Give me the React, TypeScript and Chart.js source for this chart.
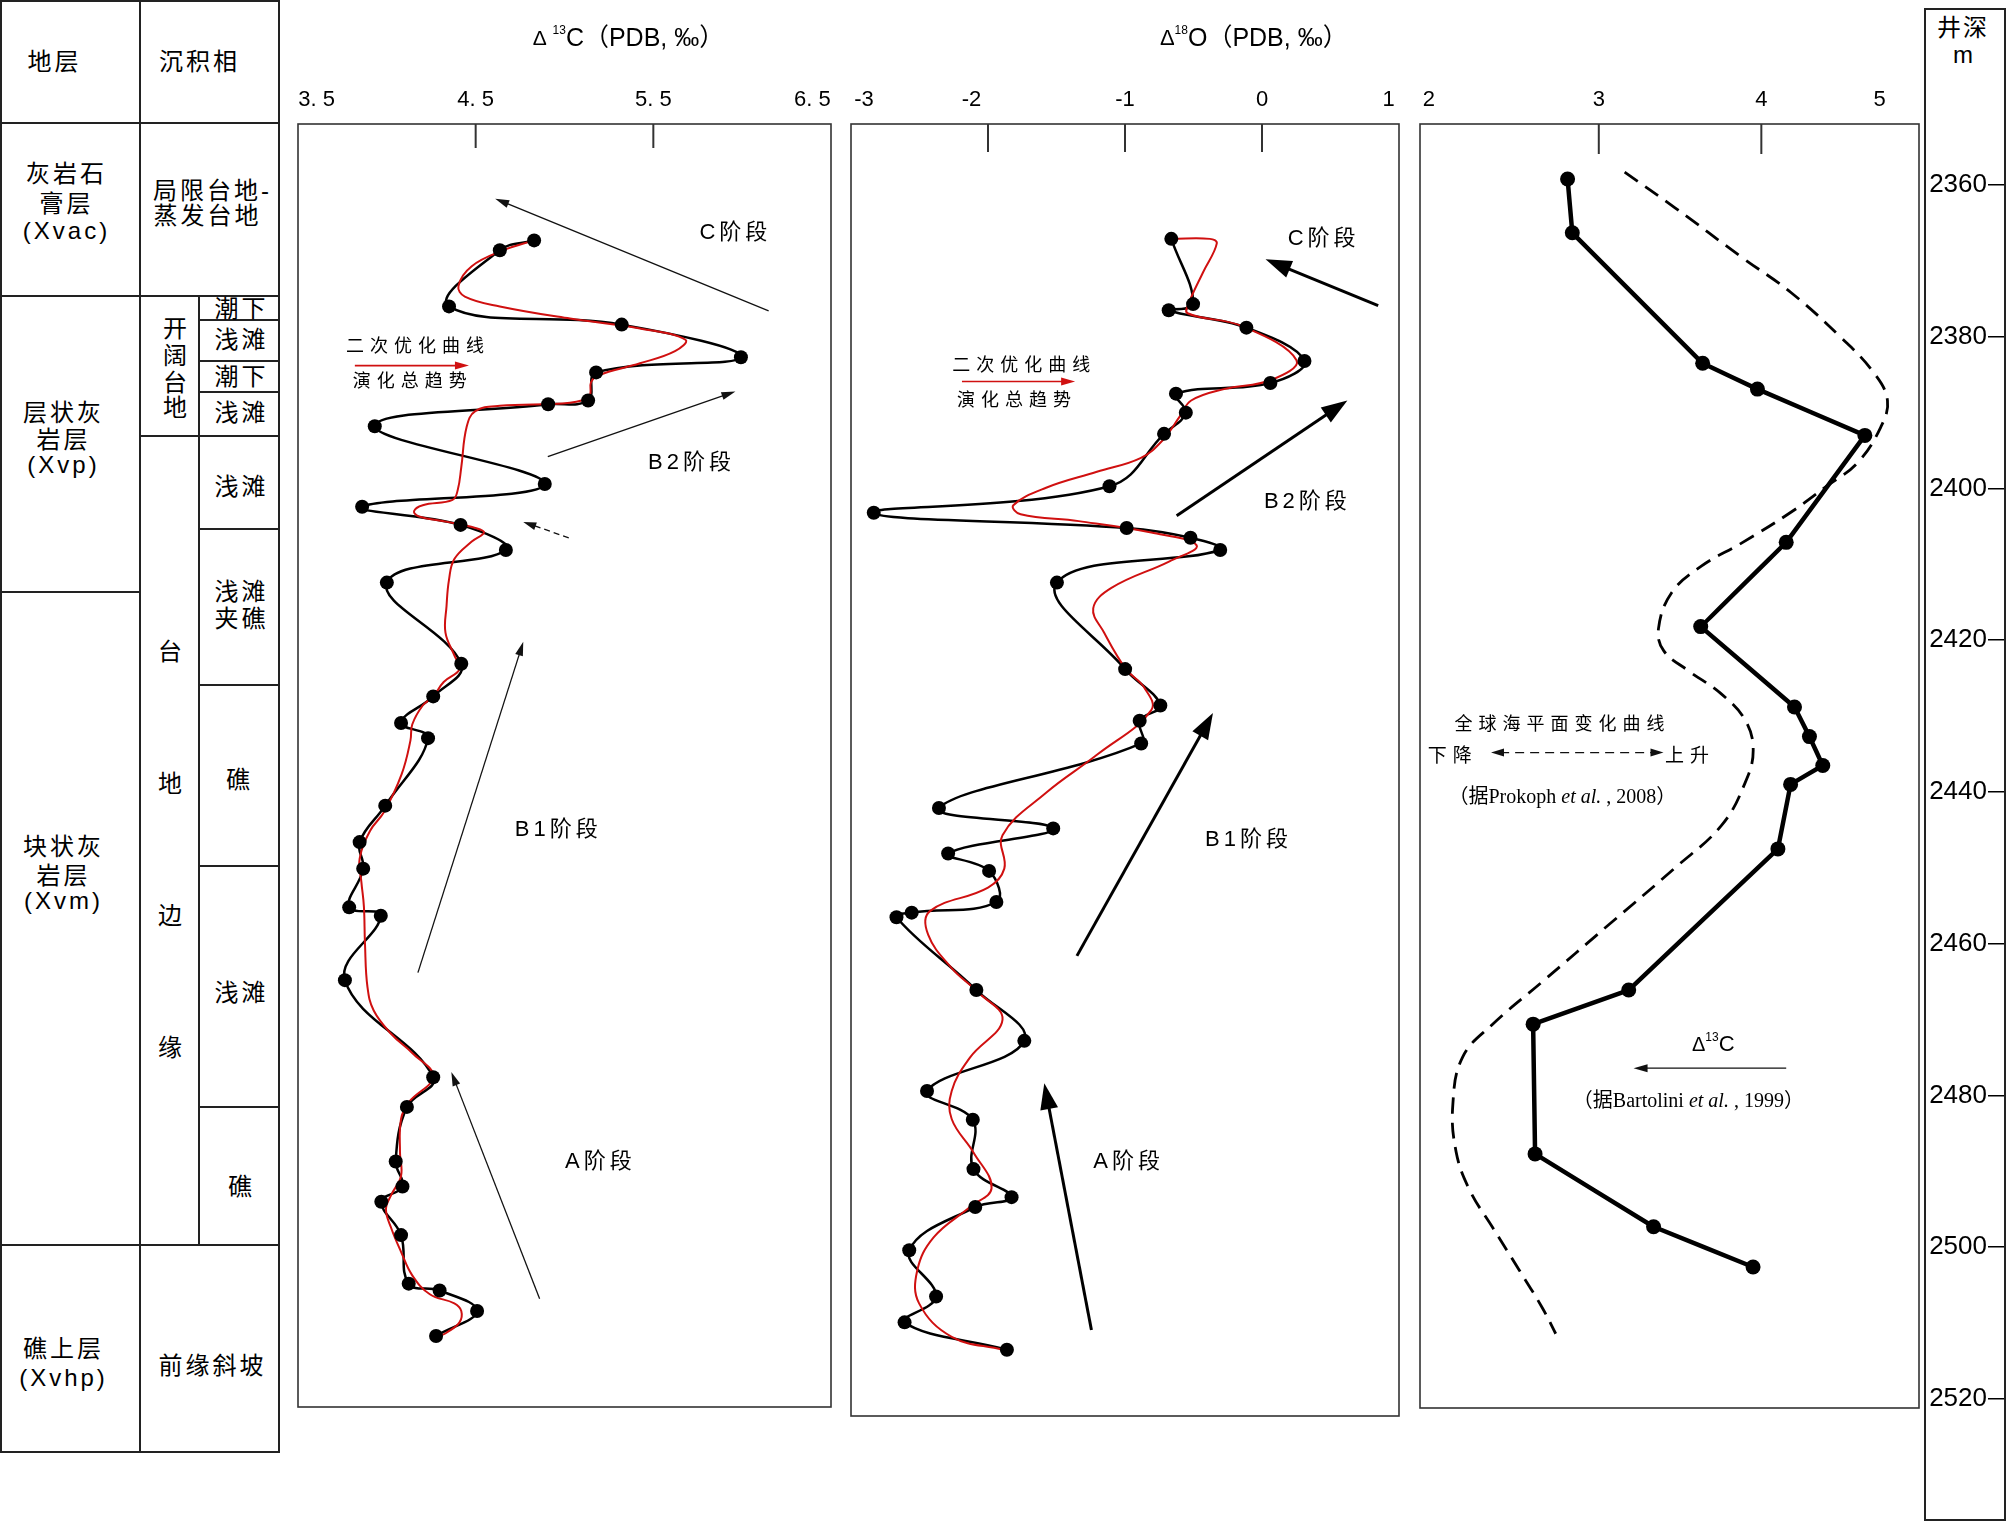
import React, { useEffect, useRef } from 'react';
import { Chart, registerables } from 'chart.js';

Chart.register(...registerables);

type Pt = [number, number];

// ======================= DATA =======================
const DEPTH_TICKS = [2360, 2380, 2400, 2420, 2440, 2460, 2480, 2500, 2520];

// ---- δ13C panel ----
const C13_RANGE: Pt = [3.5, 6.5];
const C13_TICKS = [4.5, 5.5];
const C13_LABELS = ['3. 5', '4. 5', '5. 5', '6. 5'];
const C13_LABEL_AT = [3.605, 4.5, 5.5, 6.395];
const C13_SAMPLES: Pt[] = [
  [4.829, 2367.3], [4.636, 2368.6], [4.35, 2376.0], [5.322, 2378.4], [5.993, 2382.7], [5.178, 2384.7],
  [5.133, 2388.4], [4.908, 2388.9], [3.932, 2391.8], [4.889, 2399.4], [3.861, 2402.4], [4.415, 2404.8],
  [4.67, 2408.1], [4.0, 2412.4], [4.419, 2423.1], [4.261, 2427.4], [4.08, 2430.9], [4.232, 2432.9],
  [3.991, 2441.8], [3.847, 2446.6], [3.867, 2450.1], [3.788, 2455.2], [3.966, 2456.3], [3.764, 2464.8],
  [4.261, 2477.6], [4.113, 2481.5], [4.05, 2488.7], [4.088, 2492.0], [3.969, 2494.0], [4.08, 2498.4],
  [4.123, 2504.8], [4.297, 2505.7], [4.508, 2508.4], [4.277, 2511.7],
];
const C13_TREND: Pt[] = [
  [4.829, 2367.3], [4.656, 2368.6], [4.478, 2370.7], [4.403, 2373.3], [4.439, 2374.7], [4.636, 2376.0],
  [5.031, 2377.6], [5.425, 2378.9], [5.681, 2380.4], [5.622, 2381.9], [5.425, 2383.5], [5.188, 2385.1],
  [5.149, 2386.0], [5.139, 2387.8], [5.031, 2388.7], [4.636, 2389.1], [4.498, 2389.8], [4.449, 2391.9],
  [4.419, 2397.2], [4.399, 2400.2], [4.37, 2401.5], [4.202, 2402.2], [4.153, 2403.0], [4.182, 2403.7],
  [4.34, 2404.4], [4.498, 2405.2], [4.547, 2405.8], [4.478, 2407.0], [4.38, 2409.3], [4.35, 2412.0],
  [4.336, 2415.5], [4.33, 2419.0], [4.38, 2422.0], [4.409, 2423.8], [4.32, 2425.5], [4.261, 2427.4],
  [4.202, 2428.6], [4.143, 2431.1], [4.133, 2433.2], [4.084, 2437.6], [3.985, 2442.6], [3.906, 2445.1],
  [3.847, 2448.8], [3.857, 2451.9], [3.871, 2455.1], [3.877, 2460.0], [3.891, 2465.7], [3.926, 2468.8],
  [4.025, 2471.9], [4.143, 2474.4], [4.261, 2477.5], [4.123, 2480.9], [4.08, 2483.1], [4.074, 2487.5],
  [4.08, 2490.6], [4.025, 2493.1], [3.995, 2495.0], [4.025, 2497.5], [4.08, 2500.6], [4.143, 2503.7],
  [4.242, 2506.2], [4.38, 2507.4], [4.419, 2508.4], [4.409, 2509.9], [4.34, 2511.2], [4.291, 2511.8],
];
const C13_TITLE_AT = 5.36;
const C13_ARROWS: [Pt, Pt][] = [
  [[6.149, 2376.6], [4.61, 2361.8]],
  [[4.906, 2395.8], [5.962, 2387.2]],
  [[4.175, 2463.8], [4.768, 2420.2]],
  [[4.86, 2506.8], [4.363, 2476.9]],
];
const C13_DASH_ARROW: [Pt, Pt] = [[5.024, 2406.5], [4.768, 2404.4]];
const C13_STAGES: [string, number, number][] = [
  ['C阶段', 5.962, 2366.3], ['B2阶段', 5.715, 2396.6], ['B1阶段', 4.965, 2445.0], ['A阶段', 5.202, 2488.7],
];
const C13_LEGEND_TEXT: [string, number, number][] = [['二次优化曲线', 4.175, 2381.3], ['演化总趋势', 4.146, 2386.0]];
const C13_LEGEND_ARROW: [Pt, Pt] = [[3.82, 2383.8], [4.462, 2383.8]];

// ---- δ18O panel ----
const O18_RANGE: Pt = [-3, 1];
const O18_TICKS = [-2, -1, 0];
const O18_LABELS = ['-3', '-2', '-1', '0', '1'];
const O18_LABEL_AT = [-2.905, -2.12, -1, 0, 0.925];
const O18_SAMPLES: Pt[] = [
  [-0.662, 2367.1], [-0.503, 2375.7], [-0.681, 2376.5], [-0.114, 2378.8], [0.31, 2383.2], [0.061, 2386.1],
  [-0.628, 2387.5], [-0.556, 2390.0], [-0.715, 2392.8], [-1.113, 2399.7], [-2.834, 2403.2], [-0.988, 2405.2],
  [-0.522, 2406.5], [-0.305, 2408.1], [-1.497, 2412.4], [-0.999, 2423.8], [-0.742, 2428.6], [-0.893, 2430.6],
  [-0.882, 2433.6], [-2.358, 2442.1], [-1.524, 2444.8], [-2.291, 2448.1], [-1.992, 2450.4], [-1.939, 2454.5],
  [-2.557, 2455.9], [-2.668, 2456.5], [-2.085, 2466.1], [-1.735, 2472.8], [-2.445, 2479.4], [-2.111, 2483.2],
  [-2.106, 2489.7], [-1.828, 2493.4], [-2.093, 2494.7], [-2.575, 2500.4], [-2.379, 2506.5], [-2.609, 2509.9],
  [-1.862, 2513.5],
];
const O18_TREND: Pt[] = [
  [-0.662, 2367.1], [-0.38, 2367.1], [-0.33, 2367.7], [-0.43, 2371.5], [-0.53, 2375.4], [-0.543, 2376.9],
  [-0.146, 2378.6], [0.252, 2383.1],
  [0.066, 2385.7], [-0.278, 2386.9], [-0.517, 2388.4], [-0.596, 2390.4], [-0.728, 2393.7], [-0.887, 2396.0],
  [-1.205, 2397.8], [-1.576, 2399.9], [-1.815, 2402.2], [-1.762, 2403.4], [-1.338, 2404.3], [-0.808, 2405.8],
  [-0.477, 2407.5], [-0.675, 2409.6], [-1.099, 2413.1], [-1.232, 2415.8], [-1.152, 2419.0], [-0.993, 2423.8],
  [-0.861, 2426.2], [-0.808, 2429.2], [-1.205, 2435.1], [-1.576, 2440.1], [-1.894, 2445.7], [-1.881, 2450.1],
  [-2.0, 2452.6], [-2.424, 2455.7], [-2.437, 2458.8], [-2.265, 2463.2], [-2.079, 2466.3], [-1.894, 2470.0],
  [-2.132, 2475.0], [-2.265, 2479.4], [-2.265, 2483.1], [-2.106, 2487.5], [-1.974, 2492.2], [-2.132, 2494.7],
  [-2.397, 2498.7], [-2.517, 2503.1], [-2.503, 2507.4], [-2.265, 2511.8], [-1.894, 2513.5],
];
const O18_TITLE_AT = -0.06;
const O18_ARROWS: [Pt, Pt][] = [
  [[0.848, 2375.9], [0.026, 2369.8]],
  [[-0.623, 2403.6], [0.623, 2388.4]],
  [[-1.351, 2461.6], [-0.358, 2429.6]],
  [[-1.245, 2510.9], [-1.589, 2478.4]],
];
const O18_STAGES: [string, number, number][] = [
  ['C阶段', 0.45, 2367.1], ['B2阶段', 0.331, 2401.8], ['B1阶段', -0.098, 2446.3], ['A阶段', -0.973, 2488.7],
];
const O18_LEGEND_TEXT: [string, number, number][] = [['二次优化曲线', -1.735, 2383.8], ['演化总趋势', -1.788, 2388.5]];
const O18_LEGEND_ARROW: [Pt, Pt] = [[-2.19, 2385.9], [-1.364, 2385.9]];

// ---- global reference panel ----
const REF_RANGE: Pt = [1.9, 4.97];
const REF_TICKS = [3, 4];
const REF_LABELS = ['2', '3', '4', '5'];
const REF_LABEL_AT = [1.955, 3, 4, 4.728];
const BARTOLINI_C13: Pt[] = [
  [2.808, 2359.2], [2.837, 2366.3], [3.639, 2383.5], [3.976, 2386.9], [4.637, 2393.0], [4.153, 2407.1],
  [3.627, 2418.2], [4.204, 2428.8], [4.296, 2432.7], [4.378, 2436.5], [4.18, 2439.0], [4.102, 2447.5],
  [3.184, 2466.1], [2.596, 2470.6], [2.608, 2487.7], [3.337, 2497.3], [3.949, 2502.6],
];
const SEA_LEVEL: Pt[] = [
  [3.159, 2358.3], [3.469, 2363.0], [3.878, 2369.5], [4.184, 2374.2], [4.49, 2380.1], [4.694, 2384.8],
  [4.776, 2388.4], [4.735, 2391.9], [4.592, 2396.6], [4.408, 2399.6], [4.184, 2403.1], [3.878, 2407.2],
  [3.633, 2410.2], [3.449, 2413.7], [3.367, 2418.5], [3.4, 2421.4], [3.55, 2424.0], [3.75, 2427.0],
  [3.9, 2430.5], [3.95, 2434.5], [3.9, 2438.8], [3.755, 2444.4], [3.469, 2450.0], [3.061, 2457.5],
  [2.653, 2465.0], [2.347, 2470.6], [2.163, 2474.9], [2.102, 2481.2], [2.122, 2487.4], [2.204, 2492.4],
  [2.347, 2497.4], [2.51, 2503.0], [2.653, 2508.0], [2.735, 2511.4],
];
const SEA_TITLE: [string, number, number] = ['全球海平面变化曲线', 2.776, 2431.2];
const SEA_FALL: [string, number, number] = ['下降', 2.102, 2435.4];
const SEA_RISE: [string, number, number] = ['上升', 3.561, 2435.4];
const SEA_ARROW: [Pt, Pt] = [[2.337, 2434.8], [3.398, 2434.8]];
const SEA_SOURCE: [string, string, string, number, number] = ['（据Prokoph ', 'et al.', ' , 2008）', 2.776, 2440.7];
const C13_REF_LABEL: Pt = [3.704, 2473.4];
const C13_REF_ARROW: [Pt, Pt] = [[4.153, 2476.4], [3.214, 2476.4]];
const C13_REF_SOURCE: [string, string, string, number, number] = ['（据Bartolini ', 'et al.', ' , 1999）', 3.551, 2480.8];

// ---- stratigraphy table ----
const TABLE_TEXT: [string, number, number][] = [
  ['地层', 53, 62], ['沉积相', 198, 62],
  ['灰岩石', 65, 174], ['膏层', 65, 204], ['(Xvac)', 65, 231],
  ['局限台地-', 211, 191], ['蒸发台地', 206, 216],
  ['层状灰', 62, 413], ['岩层', 62, 440], ['(Xvp)', 62, 465],
  ['开', 175, 329], ['阔', 175, 356], ['台', 175, 383], ['地', 175, 408],
  ['潮下', 240, 309], ['浅滩', 240, 340], ['潮下', 240, 377], ['浅滩', 240, 413],
  ['浅滩', 240, 487], ['浅滩', 240, 592], ['夹礁', 240, 619], ['礁', 238, 780],
  ['浅滩', 240, 993], ['礁', 240, 1187],
  ['台', 170, 652], ['地', 170, 784], ['边', 170, 916], ['缘', 170, 1048],
  ['块状灰', 62, 847], ['岩层', 62, 876], ['(Xvm)', 62, 901],
  ['礁上层', 62, 1349], ['(Xvhp)', 62, 1378],
  ['前缘斜坡', 211, 1366],
];
// horizontal rules [y, x1, x2] and vertical rules [x, y1, y2]
const TABLE_H: [number, number, number][] = [
  [1, 0, 280], [123, 0, 280], [296, 0, 280], [592, 0, 140], [1245, 0, 280], [1452, 0, 280],
  [320, 199, 280], [361, 199, 280], [391.5, 199, 280], [435.5, 140, 280], [529, 199, 280],
  [685, 199, 280], [866, 199, 280], [1107, 199, 280],
];
const TABLE_V: [number, number, number][] = [[1, 0, 1453], [140, 0, 1453], [199, 296, 1245], [279, 0, 1453]];

// ======================= STYLE / LAYOUT =======================
const SANS = '"Liberation Sans", "Noto Sans CJK SC", sans-serif';
const SERIF = '"Liberation Serif", "Noto Sans CJK SC", serif';
const RED = '#d01010';
const BOX_TOP = 124;
const Y2360 = 185;
const PX_PER_M = 7.5875;
const depthAt = (y: number) => 2360 + (y - Y2360) / PX_PER_M;

const PANELS = {
  c13: { left: 298, right: 831, bottom: 1407 },
  o18: { left: 851, right: 1399, bottom: 1416 },
  ref: { left: 1420, right: 1919, bottom: 1408 },
};

type Seg = { t: string; size: number; family?: string; italic?: boolean; dy?: number; ls?: number };
type ArrowStyle = { w: number; color: string; head: number; hw: number; dash?: number[]; both?: boolean };

const THIN: ArrowStyle = { w: 1.3, color: '#111', head: 14, hw: 8 };
const THIN_DASH: ArrowStyle = { w: 1.3, color: '#111', head: 13, hw: 8, dash: [6, 4] };
const THICK: ArrowStyle = { w: 3, color: '#000', head: 26, hw: 18 };
const RED_ARROW: ArrowStyle = { w: 1.6, color: RED, head: 14, hw: 8 };
const DOUBLE_DASH: ArrowStyle = { w: 1.3, color: '#111', head: 13, hw: 8, dash: [9, 6], both: true };

function richText(ctx: any, segs: Seg[], cx: number, cy: number) {
  ctx.save();
  ctx.textAlign = 'left';
  ctx.textBaseline = 'middle';
  ctx.fillStyle = '#000';
  const apply = (s: Seg) => {
    ctx.font = `${s.italic ? 'italic ' : ''}${s.size}px ${s.family || SANS}`;
    ctx.letterSpacing = `${s.ls || 0}px`;
  };
  const widths = segs.map((s) => {
    apply(s);
    return ctx.measureText(s.t).width;
  });
  const total = widths.reduce((a, b) => a + b, 0);
  let x = cx - total / 2;
  segs.forEach((s, i) => {
    apply(s);
    ctx.fillText(s.t, x, cy + (s.dy || 0));
    x += widths[i];
  });
  ctx.restore();
}

function head(ctx: any, x: number, y: number, ang: number, len: number, w: number) {
  const c = Math.cos(ang);
  const s = Math.sin(ang);
  const bx = x - len * c;
  const by = y - len * s;
  ctx.beginPath();
  ctx.moveTo(x, y);
  ctx.lineTo(bx + (w / 2) * s, by - (w / 2) * c);
  ctx.lineTo(bx - (w / 2) * s, by + (w / 2) * c);
  ctx.closePath();
  ctx.fill();
}

function arrow(ctx: any, a: Pt, b: Pt, o: ArrowStyle) {
  const [x1, y1] = a;
  const [x2, y2] = b;
  const ang = Math.atan2(y2 - y1, x2 - x1);
  const c = Math.cos(ang);
  const s = Math.sin(ang);
  ctx.save();
  ctx.strokeStyle = o.color;
  ctx.fillStyle = o.color;
  ctx.lineWidth = o.w;
  ctx.setLineDash(o.dash || []);
  ctx.beginPath();
  const k = o.head * 0.7;
  ctx.moveTo(o.both ? x1 + k * c : x1, o.both ? y1 + k * s : y1);
  ctx.lineTo(x2 - k * c, y2 - k * s);
  ctx.stroke();
  ctx.setLineDash([]);
  head(ctx, x2, y2, ang, o.head, o.hw);
  if (o.both) head(ctx, x1, y1, ang + Math.PI, o.head, o.hw);
  ctx.restore();
}

const toXY = (arr: Pt[]) => arr.map(([x, y]) => ({ x, y }));

function makePanel(
  canvas: HTMLCanvasElement,
  box: { left: number; right: number; bottom: number },
  range: Pt,
  labelAt: number[],
  labels: string[],
  innerTicks: number[],
  innerTickLen: number,
  datasets: any[],
  draw: (ctx: any, P: (v: number, d: number) => Pt, chart: any) => void,
) {
  return new Chart(canvas, {
    type: 'line',
    data: { datasets },
    options: {
      animation: false,
      responsive: false,
      devicePixelRatio: 1,
      events: [],
      layout: { autoPadding: false, padding: { left: 2, right: 2, top: 0, bottom: 2 } },
      plugins: { legend: { display: false }, tooltip: { enabled: false }, title: { display: false } },
      scales: {
        x: {
          type: 'linear',
          position: 'top',
          min: range[0],
          max: range[1],
          afterBuildTicks: (s: any) => {
            s.ticks = labelAt.map((v) => ({ value: v }));
          },
          afterFit: (s: any) => {
            s.height = BOX_TOP;
          },
          grid: { display: false, drawTicks: true, tickLength: 11 },
          border: { display: false },
          ticks: {
            autoSkip: false,
            maxRotation: 0,
            minRotation: 0,
            padding: 0,
            color: '#000',
            font: { family: SANS, size: 22 },
            callback: (_v: any, i: number) => labels[i],
          },
        },
        y: {
          type: 'linear',
          display: false,
          reverse: true,
          min: depthAt(BOX_TOP),
          max: depthAt(box.bottom),
        },
      },
    } as any,
    plugins: [
      {
        id: 'overlay',
        afterDatasetsDraw(chart: any) {
          const ctx = chart.ctx;
          const a = chart.chartArea;
          const P = (v: number, d: number): Pt => [chart.scales.x.getPixelForValue(v), chart.scales.y.getPixelForValue(d)];
          ctx.save();
          ctx.strokeStyle = '#333';
          ctx.lineWidth = 1.6;
          ctx.strokeRect(a.left, a.top, a.right - a.left, a.bottom - a.top);
          ctx.lineWidth = 2;
          innerTicks.forEach((v) => {
            const x = chart.scales.x.getPixelForValue(v);
            ctx.beginPath();
            ctx.moveTo(x, a.top);
            ctx.lineTo(x, a.top + innerTickLen);
            ctx.stroke();
          });
          ctx.restore();
          draw(ctx, P, chart);
        },
      },
    ],
  });
}

const stageSeg = (t: string): Seg[] => [{ t, size: 22, ls: 4 }];
const legendSeg = (t: string): Seg[] => [{ t, size: 18, ls: 6 }];

export default function App() {
  const c1 = useRef<HTMLCanvasElement>(null);
  const c2 = useRef<HTMLCanvasElement>(null);
  const c3 = useRef<HTMLCanvasElement>(null);
  const c4 = useRef<HTMLCanvasElement>(null);

  useEffect(() => {
    document.body.style.margin = '0';
    const charts: Chart[] = [];

    // δ13C
    charts.push(
      makePanel(
        c1.current!,
        PANELS.c13,
        C13_RANGE,
        C13_LABEL_AT,
        C13_LABELS,
        C13_TICKS,
        24,
        [
          { data: toXY(C13_SAMPLES), showLine: false, pointRadius: 7, pointBackgroundColor: '#000', pointBorderWidth: 0, order: 0 },
          { data: toXY(C13_TREND), borderColor: RED, borderWidth: 2, pointRadius: 0, tension: 0.4, order: 1 },
          { data: toXY(C13_SAMPLES), borderColor: '#000', borderWidth: 2.5, pointRadius: 0, tension: 0.4, order: 2 },
        ],
        (ctx, P) => {
          const tx = P(C13_TITLE_AT, 2400)[0];
          richText(ctx, [{ t: 'Δ ', size: 21 }, { t: '13', size: 12, dy: -8 }, { t: 'C（PDB, ‰）', size: 25 }], tx, 39);
          C13_ARROWS.forEach(([f, t]) => arrow(ctx, P(f[0], f[1]), P(t[0], t[1]), THIN));
          arrow(ctx, P(C13_DASH_ARROW[0][0], C13_DASH_ARROW[0][1]), P(C13_DASH_ARROW[1][0], C13_DASH_ARROW[1][1]), THIN_DASH);
          C13_STAGES.forEach(([t, v, d]) => {
            const [x, y] = P(v, d);
            richText(ctx, stageSeg(t), x, y);
          });
          C13_LEGEND_TEXT.forEach(([t, v, d]) => {
            const [x, y] = P(v, d);
            richText(ctx, legendSeg(t), x, y);
          });
          arrow(ctx, P(C13_LEGEND_ARROW[0][0], C13_LEGEND_ARROW[0][1]), P(C13_LEGEND_ARROW[1][0], C13_LEGEND_ARROW[1][1]), RED_ARROW);
        },
      ),
    );

    // δ18O
    charts.push(
      makePanel(
        c2.current!,
        PANELS.o18,
        O18_RANGE,
        O18_LABEL_AT,
        O18_LABELS,
        O18_TICKS,
        28,
        [
          { data: toXY(O18_SAMPLES), showLine: false, pointRadius: 7, pointBackgroundColor: '#000', pointBorderWidth: 0, order: 0 },
          { data: toXY(O18_TREND), borderColor: RED, borderWidth: 2, pointRadius: 0, tension: 0.4, order: 1 },
          { data: toXY(O18_SAMPLES), borderColor: '#000', borderWidth: 2.5, pointRadius: 0, tension: 0.4, order: 2 },
        ],
        (ctx, P) => {
          const tx = P(O18_TITLE_AT, 2400)[0];
          richText(ctx, [{ t: 'Δ', size: 22 }, { t: '18', size: 12, dy: -8 }, { t: 'O（PDB, ‰）', size: 25 }], tx, 39);
          O18_ARROWS.forEach(([f, t]) => arrow(ctx, P(f[0], f[1]), P(t[0], t[1]), THICK));
          O18_STAGES.forEach(([t, v, d]) => {
            const [x, y] = P(v, d);
            richText(ctx, stageSeg(t), x, y);
          });
          O18_LEGEND_TEXT.forEach(([t, v, d]) => {
            const [x, y] = P(v, d);
            richText(ctx, legendSeg(t), x, y);
          });
          arrow(ctx, P(O18_LEGEND_ARROW[0][0], O18_LEGEND_ARROW[0][1]), P(O18_LEGEND_ARROW[1][0], O18_LEGEND_ARROW[1][1]), RED_ARROW);
        },
      ),
    );

    // reference curves
    charts.push(
      makePanel(
        c3.current!,
        PANELS.ref,
        REF_RANGE,
        REF_LABEL_AT,
        REF_LABELS,
        REF_TICKS,
        30,
        [
          { data: toXY(BARTOLINI_C13), showLine: false, pointRadius: 7.5, pointBackgroundColor: '#000', pointBorderWidth: 0, order: 0 },
          { data: toXY(SEA_LEVEL), borderColor: '#000', borderWidth: 2.8, borderDash: [16, 9], pointRadius: 0, tension: 0.4, order: 1 },
          { data: toXY(BARTOLINI_C13), borderColor: '#000', borderWidth: 4.5, borderJoinStyle: 'round', pointRadius: 0, tension: 0.0001, order: 2 },
        ],
        (ctx, P) => {
          let [x, y] = P(SEA_TITLE[1], SEA_TITLE[2]);
          richText(ctx, [{ t: SEA_TITLE[0], size: 18, ls: 6 }], x, y);
          [x, y] = P(SEA_FALL[1], SEA_FALL[2]);
          richText(ctx, [{ t: SEA_FALL[0], size: 19, ls: 6 }], x, y);
          [x, y] = P(SEA_RISE[1], SEA_RISE[2]);
          richText(ctx, [{ t: SEA_RISE[0], size: 19, ls: 6 }], x, y);
          arrow(ctx, P(SEA_ARROW[0][0], SEA_ARROW[0][1]), P(SEA_ARROW[1][0], SEA_ARROW[1][1]), DOUBLE_DASH);
          [x, y] = P(SEA_SOURCE[3], SEA_SOURCE[4]);
          richText(ctx, [
            { t: SEA_SOURCE[0], size: 20, family: SERIF },
            { t: SEA_SOURCE[1], size: 20, family: SERIF, italic: true },
            { t: SEA_SOURCE[2], size: 20, family: SERIF },
          ], x, y);
          [x, y] = P(C13_REF_LABEL[0], C13_REF_LABEL[1]);
          richText(ctx, [{ t: 'Δ', size: 20 }, { t: '13', size: 12, dy: -8 }, { t: 'C', size: 22 }], x, y);
          arrow(ctx, P(C13_REF_ARROW[0][0], C13_REF_ARROW[0][1]), P(C13_REF_ARROW[1][0], C13_REF_ARROW[1][1]), THIN);
          [x, y] = P(C13_REF_SOURCE[3], C13_REF_SOURCE[4]);
          richText(ctx, [
            { t: C13_REF_SOURCE[0], size: 20, family: SERIF },
            { t: C13_REF_SOURCE[1], size: 20, family: SERIF, italic: true },
            { t: C13_REF_SOURCE[2], size: 20, family: SERIF },
          ], x, y);
        },
      ),
    );

    // depth axis
    charts.push(
      new Chart(c4.current!, {
        type: 'line',
        data: { datasets: [] },
        options: {
          animation: false,
          responsive: false,
          devicePixelRatio: 1,
          events: [],
          layout: { autoPadding: false, padding: { top: 20, bottom: 20, left: 0, right: 0 } },
          plugins: { legend: { display: false }, tooltip: { enabled: false } },
          scales: {
            x: { type: 'linear', display: false, min: 0, max: 1 },
            y: {
              type: 'linear',
              position: 'left',
              reverse: true,
              min: depthAt(20),
              max: depthAt(1502),
              afterBuildTicks: (s: any) => {
                s.ticks = DEPTH_TICKS.map((v) => ({ value: v }));
              },
              afterFit: (s: any) => {
                s.width = 78;
              },
              grid: { drawOnChartArea: false, drawTicks: true, tickLength: 16, color: '#000', lineWidth: 1.5 },
              border: { display: false },
              ticks: { padding: 1, color: '#000', font: { family: SANS, size: 26 }, callback: (v: any) => String(v) },
            },
          },
        } as any,
      }),
    );

    return () => charts.forEach((c) => c.destroy());
  }, []);

  const canvasFor = (ref: any, box: { left: number; right: number; bottom: number }) => (
    <canvas
      ref={ref}
      width={box.right - box.left + 4}
      height={box.bottom + 2}
      style={{ position: 'absolute', left: box.left - 2, top: 0, width: box.right - box.left + 4, height: box.bottom + 2 }}
    />
  );

  const textStyle: React.CSSProperties = {
    position: 'absolute',
    transform: 'translate(-50%, -50%)',
    whiteSpace: 'nowrap',
    fontFamily: SANS,
    fontSize: 24,
    lineHeight: '26px',
    letterSpacing: '3px',
    color: '#000',
  };

  return (
    <div style={{ position: 'absolute', left: 0, top: 0, width: 2008, height: 1522, background: '#fff', overflow: 'hidden' }}>
      {TABLE_H.map(([y, x1, x2], i) => (
        <div key={'h' + i} style={{ position: 'absolute', left: x1, top: y - 1, width: x2 - x1, height: 2, background: '#222' }} />
      ))}
      {TABLE_V.map(([x, y1, y2], i) => (
        <div key={'v' + i} style={{ position: 'absolute', left: x - 1, top: y1, width: 2, height: y2 - y1, background: '#222' }} />
      ))}
      {TABLE_TEXT.map(([t, x, y], i) => (
        <div key={'t' + i} style={{ ...textStyle, left: x + 1.5, top: y }}>{t}</div>
      ))}

      {canvasFor(c1, PANELS.c13)}
      {canvasFor(c2, PANELS.o18)}
      {canvasFor(c3, PANELS.ref)}

      <div style={{ position: 'absolute', left: 1924, top: 8, width: 82, height: 1513, border: '2px solid #222', boxSizing: 'border-box' }} />
      <div style={{ ...textStyle, left: 1963, top: 28, letterSpacing: '2px' }}>井深</div>
      <div style={{ ...textStyle, left: 1963, top: 55, letterSpacing: '0px' }}>m</div>
      <canvas ref={c4} width={80} height={1522} style={{ position: 'absolute', left: 1926, top: 0, width: 80, height: 1522 }} />
    </div>
  );
}
